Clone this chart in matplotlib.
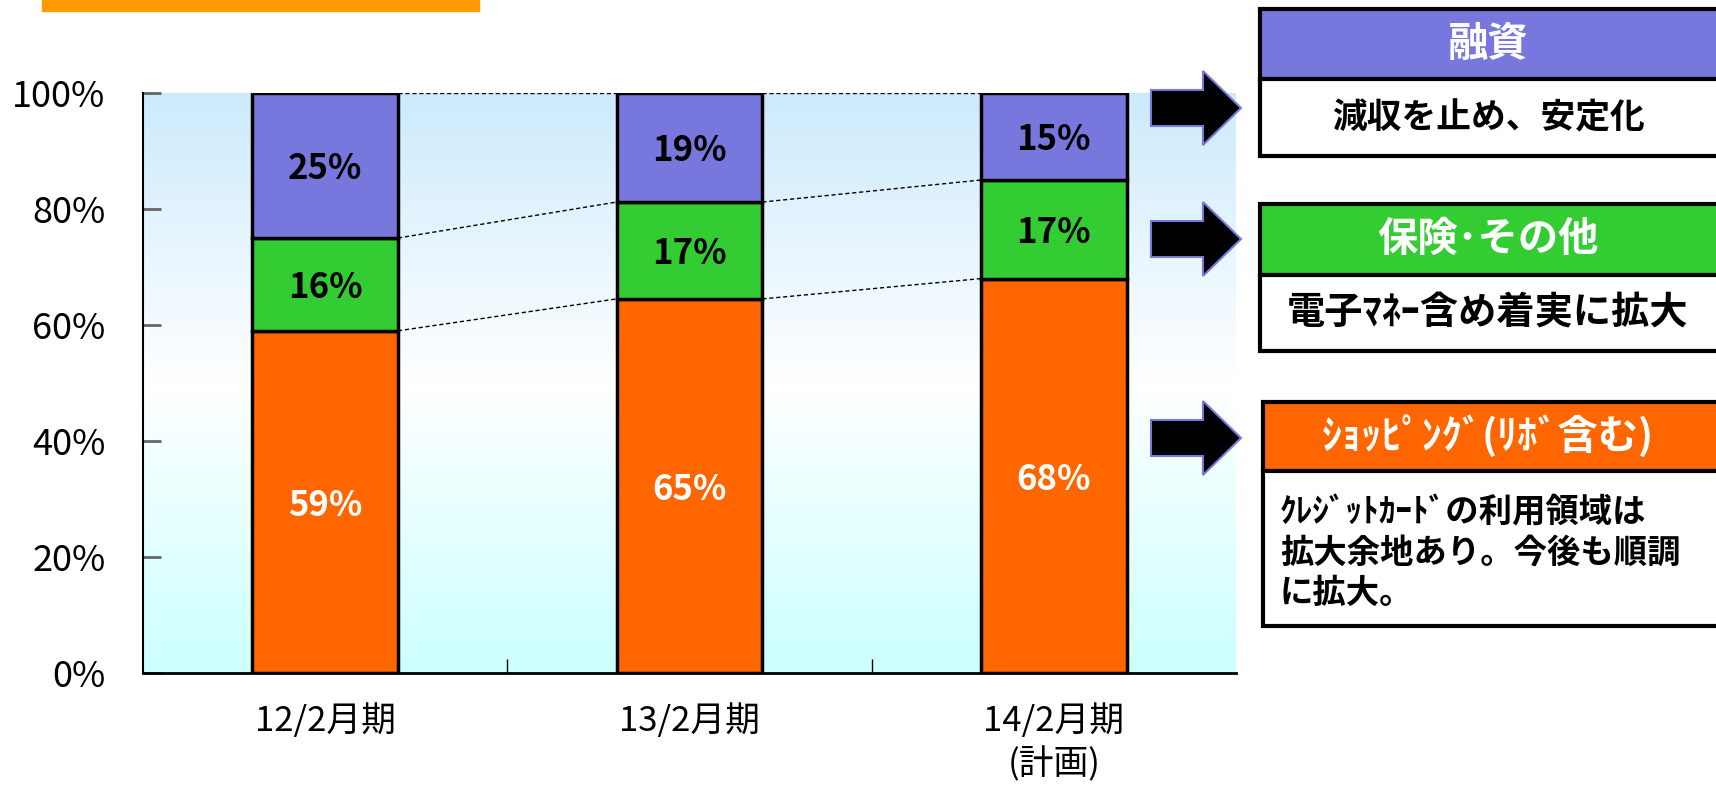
import numpy as np
import matplotlib
matplotlib.use("Agg")
import matplotlib.pyplot as plt
from matplotlib.patches import Rectangle, Polygon

# data
periods = ["12/2月期", "13/2月期", "14/2月期\n(計画)"]
shopping = [59, 64.5, 68]
insurance = [16, 16.7, 17]
loan = [25, 18.8, 15]
shopping_lbl = ["59%", "65%", "68%"]
insurance_lbl = ["16%", "17%", "17%"]
loan_lbl = ["25%", "19%", "15%"]
yticks = [0, 20, 40, 60, 80, 100]

headers = ["融資", "保険･その他", "ｼｮｯﾋﾟﾝｸﾞ(ﾘﾎﾞ含む)"]
bodies = ["減収を止め、安定化", "電子ﾏﾈｰ含め着実に拡大",
          "ｸﾚｼﾞｯﾄｶｰﾄﾞの利用領域は\n拡大余地あり。今後も順調\nに拡大。"]

c_loan = "#7777dd"
c_ins = "#33cc33"
c_shop = "#ff6600"

plt.rcParams["font.family"] = ["Noto Sans CJK JP", "DejaVu Sans"]

W, H = 1716, 786
fig = plt.figure(figsize=(W / 100, H / 100), dpi=100)
ax = fig.add_axes([143 / W, 1 - 673 / H, (1236 - 143) / W, (673 - 93) / H])

# background gradient of the plot area
stops = np.array([[0.80, 0.92, 0.99], [1.0, 1.0, 1.0], [0.80, 1.0, 1.0]])
t = np.linspace(0, 1, 256)
grad = np.stack([np.interp(t, [0, 0.5, 1], stops[:, i]) for i in range(3)], axis=1)
ax.imshow(grad[:, None, :], extent=[-0.5, 2.5, 0, 100], aspect="auto", zorder=0)

x = np.arange(len(periods))
w = 0.4
shop = np.array(shopping)
ins = np.array(insurance)
lo = np.array(loan)
ax.bar(x, shop, w, color=c_shop, edgecolor="black", linewidth=2.5, zorder=3)
ax.bar(x, ins, w, bottom=shop, color=c_ins, edgecolor="black", linewidth=2.5, zorder=3)
ax.bar(x, lo, w, bottom=shop + ins, color=c_loan, edgecolor="black", linewidth=2.5, zorder=3)

# series lines between bars
tops = [shop, shop + ins, shop + ins + lo]
for i in range(len(x) - 1):
    for lev in tops:
        ax.plot([x[i] + w / 2, x[i + 1] - w / 2], [lev[i], lev[i + 1]],
                color="black", linestyle=(0, (3, 2)), linewidth=1, zorder=2)

# labels: baseline placed so the digits sit centred in each segment
off = 2.4
lab = dict(ha="center", va="baseline", fontsize=25, fontweight="bold", zorder=4)
for i in range(len(x)):
    ax.text(x[i], shop[i] / 2 - off, shopping_lbl[i], color="white", **lab)
    ax.text(x[i], shop[i] + ins[i] / 2 - off, insurance_lbl[i], color="black", **lab)
    ax.text(x[i], shop[i] + ins[i] + lo[i] / 2 - off, loan_lbl[i], color="black", **lab)

ax.set_xlim(-0.5, 2.5)
ax.set_ylim(0, 100)
ax.set_yticks(yticks)
ax.set_yticklabels([f"{v}%" for v in yticks], fontsize=26)
ax.tick_params(axis="y", direction="in", length=13, width=2, color="#666666", pad=27)
ax.set_xticks(x)
ax.set_xticklabels(periods, fontsize=25, linespacing=1.3)
ax.tick_params(axis="x", which="major", length=0, pad=22)
ax.set_xticks([0.5, 1.5], minor=True)
ax.tick_params(axis="x", which="minor", direction="in", length=10, width=1, color="black")
for s in ["top", "right"]:
    ax.spines[s].set_visible(False)
ax.spines["left"].set_color("black")
ax.spines["left"].set_linewidth(1.5)
ax.spines["bottom"].set_linewidth(2)

# overlay in pixel coordinates for arrows and boxes
ov = fig.add_axes([0, 0, 1, 1])
ov.set_xlim(0, W)
ov.set_ylim(H, 0)
ov.axis("off")

ov.add_patch(Rectangle((42, 0), 437, 11, color="#ff9900"))

def arrow(cy):
    pts = [(1151, cy - 18), (1203, cy - 18), (1203, cy - 37), (1241, cy),
           (1203, cy + 37), (1203, cy + 18), (1151, cy + 18)]
    ov.add_patch(Polygon(pts, closed=True, facecolor="black", edgecolor=c_loan, linewidth=1.5))

for cy in [108, 239, 438]:
    arrow(cy)

boxes = [(1260, 9, 79, 156), (1260, 204, 275, 351), (1263, 402, 471, 626)]
hcolors = [c_loan, c_ins, c_shop]
for k, (lx, top, mid, bot) in enumerate(boxes):
    ov.add_patch(Rectangle((lx, top), 520, mid - top, facecolor=hcolors[k],
                           edgecolor="black", linewidth=3))
    ov.add_patch(Rectangle((lx, mid), 520, bot - mid, facecolor="white",
                           edgecolor="black", linewidth=3))
    ov.text(1488, (top + mid) / 2, headers[k], ha="center", va="center",
            color="white", fontsize=29, fontweight="bold")

ov.text(1488, 118, bodies[0], ha="center", va="center", fontsize=25, fontweight="bold")
ov.text(1488, 313, bodies[1], ha="center", va="center", fontsize=27.5, fontweight="bold")
ov.text(1280, 553, bodies[2], ha="left", va="center", fontsize=24, fontweight="bold",
        linespacing=1.28)

fig.savefig("out.png", dpi=100)
